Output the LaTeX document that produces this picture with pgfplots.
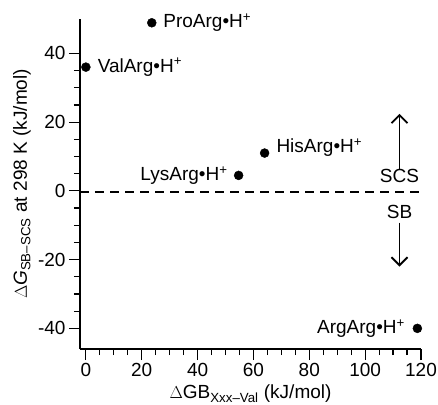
\documentclass[border=0pt]{standalone}
\usepackage{fontspec}
\setmainfont{Liberation Sans}
\usepackage{pgfplots}
\pgfplotsset{compat=1.18}
\usetikzlibrary{arrows.meta}

\begin{document}
\begin{tikzpicture}[font=\fontsize{19}{22}\selectfont]
    \begin{axis}[
        name=ax,
        scale only axis,
        width=341pt, height=330pt,
        xmin=-2.1, xmax=120,
        ymin=-46, ymax=50,
        axis x line*=bottom,
        axis y line*=left,
        axis line style={-, line width=1.4pt},
        tick style={line width=1.2pt, black},
        tick align=outside,
        major tick length=11pt,
        minor tick length=6pt,
        xtick={0,20,...,120},
        ytick={-40,-20,...,40},
        minor x tick num=3,
        minor y tick num=3,
        /pgf/number format/assume math mode=true,
        xlabel={$\Delta$GB\textsubscript{Xxx–Val} (kJ/mol)},
        ylabel={$\Delta$\textit{G}\textsubscript{SB–SCS} at 298 K (kJ/mol)},
        xlabel style={at={(axis description cs:0.5,-0.135)}, anchor=center},
        ylabel style={at={(axis description cs:-0.17,0.5)}, anchor=center},
        clip=false,
    ]
        % dividing line
        \addplot[black, dashed, line width=2.2pt, dash pattern=on 9pt off 6pt]
            coordinates {(-2.1,-0.3) (120,-0.3)};

        % dipeptides
        \addplot[only marks, mark=*, mark size=4.5pt, black] coordinates {
            (23.6, 48.9)
            (0.0, 36.0)
            (64.0, 11.0)
            (54.7, 4.5)
            (118.7, -40.0)
        };

        \node[anchor=west] at (axis cs:26.5,48.9) {ProArg•H\textsuperscript{+}};
        \node[anchor=west] at (axis cs:3,36.0) {ValArg•H\textsuperscript{+}};
        \node[anchor=west] at (axis cs:67,12.5) {HisArg•H\textsuperscript{+}};
        \node[anchor=east] at (axis cs:52,4.5) {LysArg•H\textsuperscript{+}};
        \node[anchor=east] at (axis cs:115.5,-40.0) {ArgArg•H\textsuperscript{+}};

        \draw[-{Straight Barb[length=8pt,width=16pt]}, line width=1.8pt] (axis cs:112.3,6.3) -- (axis cs:112.3,22.4);
        \draw[-{Straight Barb[length=8pt,width=16pt]}, line width=1.8pt] (axis cs:112.3,-9.2) -- (axis cs:112.3,-22.0);
        \node at (axis cs:112.3,4.3) {SCS};
        \node at (axis cs:112.3,-6.2) {SB};
    \end{axis}
    \pgfresetboundingbox
    \path[use as bounding box] ([shift={(-80pt,-55pt)}]ax.south west) rectangle ([shift={(17pt,19pt)}]ax.north east);
\end{tikzpicture}
\end{document}
